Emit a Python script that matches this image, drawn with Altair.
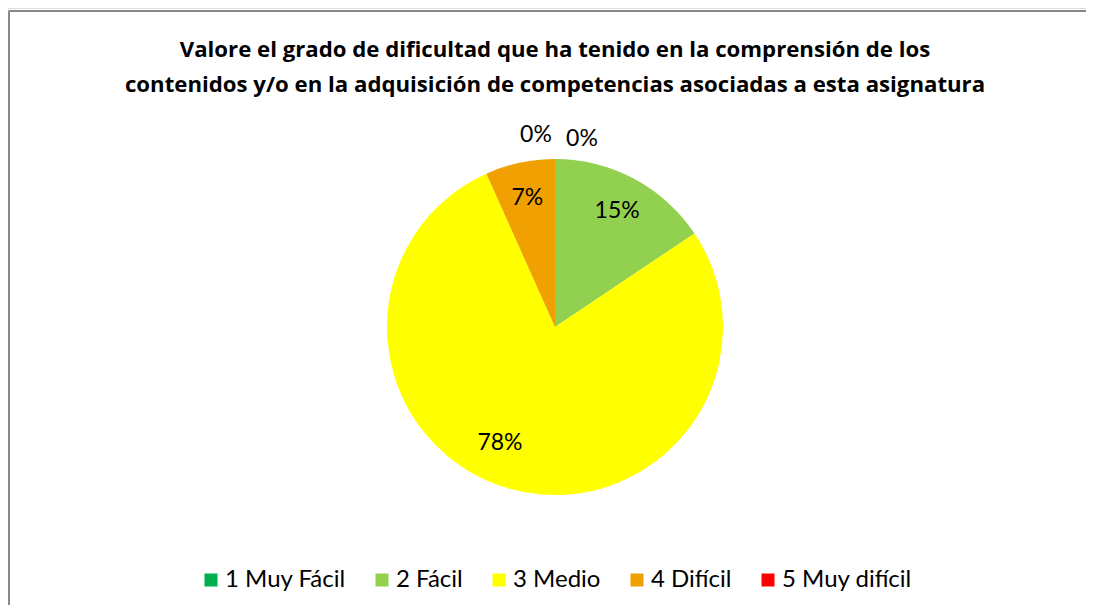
import altair as alt
import pandas as pd

categories = ["1 Muy Fácil", "2 Fácil", "3 Medio", "4 Difícil", "5 Muy difícil"]
values = [0.0, 15.6, 77.7, 6.7, 0.0]
labels = ["0%", "15%", "78%", "7%", "0%"]
colors = ["#00B050", "#92D050", "#FFFF00", "#F0A000", "#FF0000"]
title_lines = [
    "Valore el grado de dificultad que ha tenido en la comprensión de los",
    "contenidos y/o en la adquisición de competencias asociadas a esta asignatura",
]

df = pd.DataFrame({
    "cat": categories,
    "value": values,
    "label": labels,
    "order": list(range(len(categories))),
})

CX, CY = 547, 319
FONT = "Lato"
LBL = 23

base = alt.Chart(df).encode(
    theta=alt.Theta("value:Q", stack=True),
    order=alt.Order("order:Q"),
    x=alt.value(CX),
    y=alt.value(CY),
)

pie = base.mark_arc(radius=168, stroke=None).encode(
    color=alt.Color(
        "cat:N",
        scale=alt.Scale(domain=categories, range=colors),
        sort=categories,
        legend=alt.Legend(
            title=None,
            orient="none",
            legendX=191,
            legendY=560,
            direction="horizontal",
            symbolType="square",
            symbolSize=169,
            symbolStrokeWidth=0,
            labelFont=FONT,
            labelFontSize=24,
            labelColor="#000000",
            labelOffset=2,
            columnPadding=24,
            labelLimit=400,
        ),
    )
)

def cond_text(expr):
    return alt.condition(expr, "label:N", alt.value(""))

inner = base.mark_text(radius=132, font=FONT, fontSize=LBL, color="#000000").encode(
    text=cond_text(f"datum.value > 0 && datum.cat != '{categories[2]}'")
)
medio = base.mark_text(radius=127, dx=-20, dy=-6, font=FONT, fontSize=LBL, color="#000000").encode(
    text=cond_text(f"datum.cat == '{categories[2]}'")
)
zero_first = base.mark_text(radius=188, dx=27, font=FONT, fontSize=LBL, color="#000000").encode(
    text=cond_text(f"datum.cat == '{categories[0]}'")
)
zero_last = base.mark_text(radius=192, dx=-19, font=FONT, fontSize=LBL, color="#000000").encode(
    text=cond_text(f"datum.cat == '{categories[-1]}'")
)

one = alt.Data(values=[{}])
t1 = alt.Chart(one).mark_text(font="Open Sans", fontSize=22.2, fontWeight="bold", color="#000000",
                              baseline="alphabetic").encode(
    x=alt.value(CX), y=alt.value(49), text=alt.value(title_lines[0])
)
t2 = alt.Chart(one).mark_text(font="Open Sans", fontSize=22.2, fontWeight="bold", color="#000000",
                              baseline="alphabetic").encode(
    x=alt.value(CX), y=alt.value(84), text=alt.value(title_lines[1])
)

frame_top = alt.Chart(one).mark_rule(color="#888888", strokeWidth=2).encode(
    x=alt.value(1), x2=alt.value(1200), y=alt.value(3)
)
frame_left = alt.Chart(one).mark_rule(color="#888888", strokeWidth=2).encode(
    x=alt.value(1), y=alt.value(3), y2=alt.value(800)
)

chart = alt.layer(frame_top, frame_left, pie, inner, medio, zero_first, zero_last, t1, t2).properties(
    width=1078,
    height=597,
    autosize=alt.AutoSizeParams(type="none"),
    padding=0,
).configure_view(strokeWidth=0, stroke="transparent").configure(background="white")

chart.save("out.html", embed_options={"renderer": "svg", "actions": False})
